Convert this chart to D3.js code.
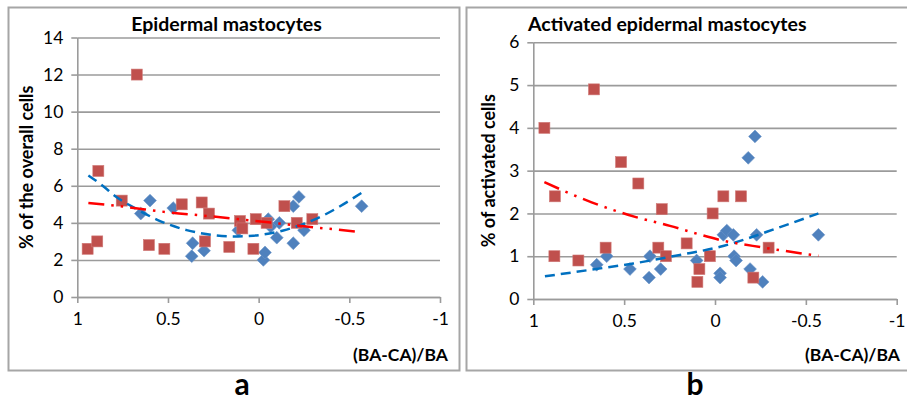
<!DOCTYPE html>
<html><head><meta charset="utf-8">
<script src="https://cdn.jsdelivr.net/npm/d3@7"></script>
<style>
body{margin:0;background:#fff}
svg{display:block}
text{font-family:Lato,"Open Sans",sans-serif;fill:#000}
</style>
</head><body>
<svg id="c" width="907" height="401"></svg>
<script>
// ---------- data ----------
const xTickValues = [1, 0.5, 0, -0.5, -1];
const xTickLabels = ["1", "0.5", "0", "-0.5", "-1"];
const leftYTicks = [0, 2, 4, 6, 8, 10, 12, 14];
const rightYTicks = [0, 1, 2, 3, 4, 5, 6];

const leftTitle = "Epidermal mastocytes";
const rightTitle = "Activated epidermal mastocytes";
const leftYLabel = "% of the overall cells";
const rightYLabel = "% of activated cells";
const xLabel = "(BA-CA)/BA";
const panelLetters = ["a", "b"];

// panel a – blue diamonds
const leftBlueX = [0.650, 0.599, 0.471, 0.364, 0.369, 0.301, 0.112, -0.026, -0.035, -0.053, -0.066, -0.114, -0.100, -0.191, -0.191, -0.222, -0.250, -0.568];
const leftBlueY = [4.5, 5.2, 4.8, 2.9, 2.2, 2.5, 3.6, 2.0, 2.4, 4.2, 3.8, 4.0, 3.2, 4.9, 2.9, 5.4, 3.6, 4.9];
// panel a – red squares
const leftRedX = [0.943, 0.890, 0.884, 0.755, 0.672, 0.605, 0.520, 0.424, 0.314, 0.296, 0.274, 0.162, 0.103, 0.090, 0.029, 0.016, -0.044, -0.142, -0.210, -0.296];
const leftRedY = [2.6, 3.0, 6.8, 5.2, 12.0, 2.8, 2.6, 5.0, 5.1, 3.0, 4.5, 2.7, 4.1, 3.7, 2.6, 4.2, 4.0, 4.9, 4.0, 4.2];
// panel a – trend lines
const leftBlueTrendX = [0.939, 0.857, 0.792, 0.672, 0.562, 0.397, 0.323, 0.140, 0.030, -0.136, -0.320, -0.568];
const leftBlueTrendY = [6.56, 5.98, 5.45, 4.74, 4.18, 3.61, 3.45, 3.27, 3.31, 3.59, 4.23, 5.62];
const leftRedTrendX = [0.939, 0.750, 0.490, 0.270, 0.100, -0.210, -0.568];
const leftRedTrendY = [5.07, 4.88, 4.56, 4.36, 4.19, 3.86, 3.50];

// panel b – blue diamonds
const rightBlueX = [0.651, 0.596, 0.468, 0.363, 0.358, 0.299, 0.101, -0.028, -0.028, -0.046, -0.065, -0.101, -0.105, -0.116, -0.193, -0.262, -0.229, -0.183, -0.220, -0.569];
const rightBlueY = [0.8, 1.0, 0.7, 0.5, 1.0, 0.7, 0.9, 0.6, 0.5, 1.5, 1.6, 1.5, 1.0, 0.9, 0.7, 0.4, 1.5, 3.3, 3.8, 1.5];
// panel b – red squares
const rightRedX = [0.939, 0.666, 0.517, 0.422, 0.881, 0.884, 0.752, 0.602, 0.293, 0.312, 0.270, 0.156, 0.086, 0.097, 0.028, 0.013, -0.046, -0.143, -0.211, -0.295];
const rightRedY = [4.0, 4.9, 3.2, 2.7, 2.4, 1.0, 0.9, 1.2, 2.1, 1.2, 1.0, 1.3, 0.7, 0.4, 1.0, 2.0, 2.4, 2.4, 0.5, 1.2];
// panel b – trend lines
const rightBlueTrendX = [0.936, 0.706, 0.450, 0.193, -0.028, -0.358, -0.569];
const rightBlueTrendY = [0.53, 0.67, 0.83, 1.03, 1.22, 1.68, 2.00];
const rightRedTrendX = [0.939, 0.679, 0.440, 0.248, 0.119, -0.028, -0.270, -0.569];
const rightRedTrendY = [2.73, 2.26, 1.92, 1.71, 1.55, 1.38, 1.20, 1.01];

// ---------- drawing ----------
const svg = d3.select("#c");
const zip = (xs, ys) => xs.map((v, i) => [v, ys[i]]);

const panels = [
  { frame: [8.5, 7.5, 451, 363], plot: [77.3, 440, 37.5, 297], yDomain: [0, 14], yTicks: leftYTicks,
    title: leftTitle, titleX: 226.5, titleAnchor: "middle", yLabel: leftYLabel, yLabelX: 27,
    xLabelX: 353, letter: panelLetters[0], letterX: 242,
    blue: zip(leftBlueX, leftBlueY), red: zip(leftRedX, leftRedY),
    blueTrend: zip(leftBlueTrendX, leftBlueTrendY), redTrend: zip(leftRedTrendX, leftRedTrendY) },
  { frame: [466.5, 7.5, 460, 363], plot: [533.3, 896.7, 42.3, 299], yDomain: [0, 6], yTicks: rightYTicks,
    title: rightTitle, titleX: 528, titleAnchor: "start", yLabel: rightYLabel, yLabelX: 489,
    xLabelX: 805, letter: panelLetters[1], letterX: 695,
    blue: zip(rightBlueX, rightBlueY), red: zip(rightRedX, rightRedY),
    blueTrend: zip(rightBlueTrendX, rightBlueTrendY), redTrend: zip(rightRedTrendX, rightRedTrendY) }
];

const gridColor = "#9b9b9b";

panels.forEach(p => {
  const g = svg.append("g");
  const [fx, fy, fw, fh] = p.frame;
  g.append("rect").attr("x", fx).attr("y", fy).attr("width", fw).attr("height", fh)
    .attr("fill", "#fff").attr("stroke", "#a6a6a6").attr("stroke-width", 2);

  const [x0, x1, yTop, yBot] = p.plot;
  const x = d3.scaleLinear().domain([1, -1]).range([x0, x1]);
  const y = d3.scaleLinear().domain(p.yDomain).range([yBot, yTop]);

  // gridlines
  g.append("g").attr("transform", `translate(${x0},0)`)
    .call(d3.axisLeft(y).tickValues(p.yTicks).tickSize(-(x1 - x0)).tickFormat(""))
    .call(s => s.select(".domain").remove())
    .call(s => s.selectAll("line").attr("stroke", gridColor).attr("stroke-width", 1.6));

  // y axis
  g.append("g").attr("transform", `translate(${x0},0)`)
    .call(d3.axisLeft(y).tickValues(p.yTicks).tickSize(6).tickSizeOuter(0).tickPadding(8).tickFormat(d3.format("d")))
    .call(s => s.select(".domain").attr("stroke", gridColor).attr("stroke-width", 1.6))
    .call(s => s.selectAll("line").attr("stroke", gridColor).attr("stroke-width", 1.6))
    .call(s => s.selectAll("text").attr("font-size", 17.5).attr("font-family", "Lato"));

  // x axis at y = 0
  g.append("g").attr("transform", `translate(0,${y(0)})`)
    .call(d3.axisBottom(x).tickValues(xTickValues).tickSize(6).tickSizeOuter(0).tickPadding(10)
      .tickFormat((d, i) => xTickLabels[i]))
    .call(s => s.select(".domain").attr("stroke", gridColor).attr("stroke-width", 1.6))
    .call(s => s.selectAll("line").attr("stroke", gridColor).attr("stroke-width", 1.6))
    .call(s => s.selectAll("text").attr("font-size", 17.5).attr("font-family", "Lato"));

  // markers: blue diamonds then red squares
  const dHalf = 6.4;
  const diamond = `M0,${-dHalf}L${dHalf},0L0,${dHalf}L${-dHalf},0Z`;
  g.append("g").selectAll("path").data(p.blue).join("path")
    .attr("d", diamond)
    .attr("transform", d => `translate(${x(d[0])},${y(d[1])})`)
    .attr("fill", "#4F81BD").attr("stroke", "#6a93c8").attr("stroke-width", 0.6);
  const s = 11;
  g.append("g").selectAll("rect").data(p.red).join("rect")
    .attr("x", d => x(d[0]) - s / 2).attr("y", d => y(d[1]) - s / 2)
    .attr("width", s).attr("height", s)
    .attr("fill", "#C0504D").attr("stroke", "#cf7876").attr("stroke-width", 0.6);

  // trend lines
  const line = d3.line().x(d => x(d[0])).y(d => y(d[1])).curve(d3.curveMonotoneX);
  g.append("path").datum(p.blueTrend).attr("d", line)
    .attr("fill", "none").attr("stroke", "#0070C0").attr("stroke-width", 2.5)
    .attr("stroke-dasharray", "10,6");
  g.append("path").datum(p.redTrend).attr("d", line)
    .attr("fill", "none").attr("stroke", "#FF0000").attr("stroke-width", 2.5)
    .attr("stroke-dasharray", "16,7,2.5,7,2.5,7");

  // titles
  g.append("text").attr("x", p.titleX).attr("y", 31).attr("text-anchor", p.titleAnchor)
    .attr("font-size", 19.5).attr("font-weight", "bold").text(p.title);
  g.append("text").attr("transform", `translate(${p.yLabelX + 6},${(yTop + yBot) / 2}) rotate(-90)`)
    .attr("text-anchor", "middle").attr("font-size", 18).attr("font-weight", "bold").text(p.yLabel);
  g.append("text").attr("x", p.xLabelX).attr("y", 361)
    .attr("font-size", 17.5).attr("font-weight", "bold").text(xLabel);
  g.append("text").attr("x", p.letterX).attr("y", 395).attr("text-anchor", "middle")
    .attr("font-size", 30).attr("font-weight", "bold").text(p.letter);
});
</script>
</body></html>
